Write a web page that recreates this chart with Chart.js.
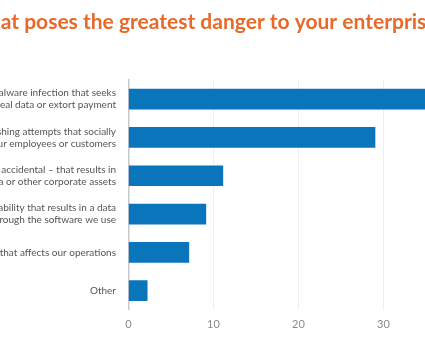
<!DOCTYPE html>
<html>
<head>
<meta charset="utf-8">
<script src="https://cdn.jsdelivr.net/npm/chart.js@4/dist/chart.umd.min.js"></script>
<style>
  html, body { margin: 0; padding: 0; background: #fff; overflow: hidden; width: 425px; height: 355px; }
  #wrap { position: absolute; left: -250px; top: 0; width: 740px; height: 355px; }
</style>
</head>
<body>
<div id="wrap"><canvas id="c" width="740" height="355"></canvas></div>
<script>
const titleText = "What poses the greatest danger to your enterprise?";
const categories = [
  ["A malware infection that seeks", "to steal data or extort payment"],
  ["Phishing attempts that socially", "engineer your employees or customers"],
  ["A breach \u2013 malicious or accidental \u2013 that results in", "loss of data or other corporate assets"],
  ["A software vulnerability that results in a data", "breach through the software we use"],
  "A DDoS attack that affects our operations",
  "Other"
];
const values = [38, 29, 11.1, 9.1, 7.1, 2.2];
const xTicks = [0, 10, 20, 30, 40];

const Y_AXIS_W = 161.5;
new Chart(document.getElementById('c'), {
  type: 'bar',
  data: {
    labels: categories,
    datasets: [{
      data: values,
      backgroundColor: '#0a75bb',
      borderWidth: 0,
      barThickness: 20
    }]
  },
  options: {
    indexAxis: 'y',
    responsive: false,
    animation: false,
    layout: { padding: { left: 217, right: 21.5, top: 0, bottom: 16 } },
    plugins: {
      legend: { display: false },
      tooltip: { enabled: false },
      title: {
        display: true,
        text: titleText,
        align: 'start',
        color: '#e8692a',
        font: { family: 'Lato', size: 21, weight: 'bold' },
        padding: { top: 9.4, bottom: 45.4 }
      }
    },
    scales: {
      x: {
        min: 0, max: 40,
        afterBuildTicks: (s) => { s.ticks = xTicks.map(v => ({ value: v })); },
        grid: { color: '#eeeeee', drawTicks: false, lineWidth: 1 },
        border: { display: false },
        ticks: { color: '#8a8a8a', padding: 8, font: { family: 'Lato', size: 11 } }
      },
      y: {
        afterFit: (s) => { s.width = Y_AXIS_W; },
        grid: { display: false, drawTicks: false },
        border: { display: true, color: '#c8c8c8', width: 1.5 },
        ticks: { color: '#555555', padding: 12.5, font: { family: 'Lato', size: 10 }, autoSkip: false }
      }
    }
  }
});
</script>
</body>
</html>
